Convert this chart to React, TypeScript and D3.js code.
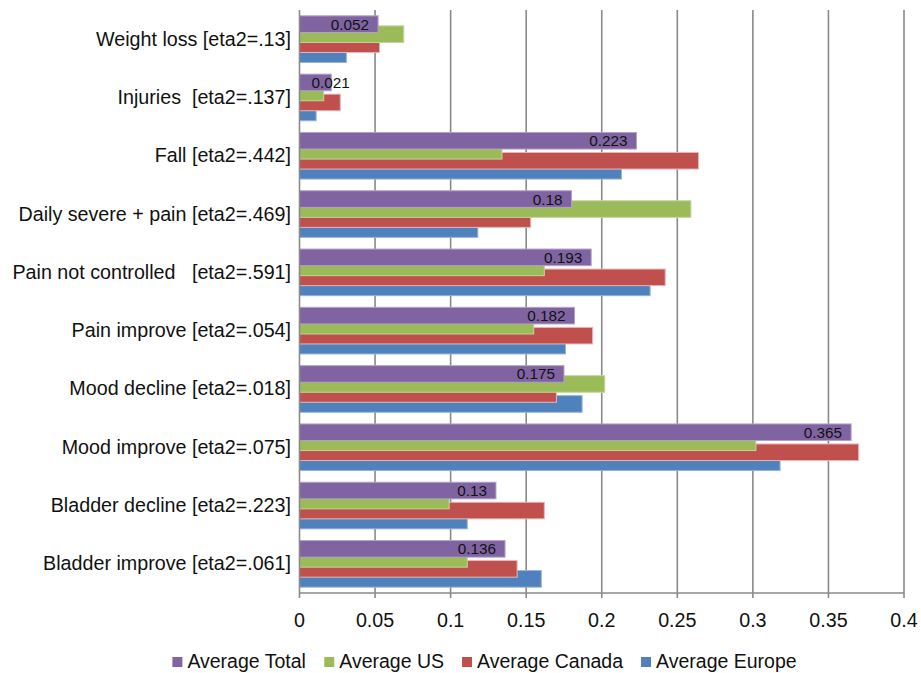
import React from "react";
import * as d3 from "d3";

const categories = [
  "Weight loss [eta2=.13]",
  "Injuries  [eta2=.137]",
  "Fall [eta2=.442]",
  "Daily severe + pain [eta2=.469]",
  "Pain not controlled   [eta2=.591]",
  "Pain improve [eta2=.054]",
  "Mood decline [eta2=.018]",
  "Mood improve [eta2=.075]",
  "Bladder decline [eta2=.223]",
  "Bladder improve [eta2=.061]",
];
const seriesNames = ["Average Total", "Average US", "Average Canada", "Average Europe"];
const averageTotal = [0.052, 0.021, 0.223, 0.18, 0.193, 0.182, 0.175, 0.365, 0.13, 0.136];
const averageUS = [0.069, 0.016, 0.134, 0.259, 0.162, 0.155, 0.202, 0.302, 0.099, 0.111];
const averageCanada = [0.053, 0.027, 0.264, 0.153, 0.242, 0.194, 0.17, 0.37, 0.162, 0.144];
const averageEurope = [0.031, 0.011, 0.213, 0.118, 0.232, 0.176, 0.187, 0.318, 0.111, 0.16];
const totalLabels = ["0.052", "0.021", "0.223", "0.18", "0.193", "0.182", "0.175", "0.365", "0.13", "0.136"];
const xTicks = [0, 0.05, 0.1, 0.15, 0.2, 0.25, 0.3, 0.35, 0.4];
const xTickLabels = ["0", "0.05", "0.1", "0.15", "0.2", "0.25", "0.3", "0.35", "0.4"];

const seriesValues = [averageTotal, averageUS, averageCanada, averageEurope];
const colors = ["#8064A2", "#9BBB59", "#C0504D", "#4F81BD"];
const strokes = ["#B3A2C7", "#C3D69B", "#E6B9B8", "#95B3D7"];

const W = 921;
const H = 673;
const FONT = "'Liberation Sans', Arial, Helvetica, sans-serif";

let ctx: CanvasRenderingContext2D | null = null;
function measure(text: string, size: number): number {
  if (!ctx) {
    const c = document.createElement("canvas");
    ctx = c.getContext("2d");
  }
  if (!ctx) return text.length * size * 0.55;
  ctx.font = `${size}px ${FONT}`;
  return ctx.measureText(text).width;
}

export default function App() {
  const left = 299.5;
  const right = 904;
  const top = 10;
  const bottom = 593;

  const x = d3.scaleLinear().domain([0, 0.4]).range([left, right]);
  const y = d3.scaleBand<string>().domain(categories).range([top, bottom]).padding(0);
  const bw = y.bandwidth();
  const step = bw * 0.1715;
  const bh = bw * 0.285;
  const off = (bw - 3 * step - bh) / 2;

  const labelSize = 19.7;
  const dataSize = 15.3;

  // legend layout
  const legendSize = 19.5;
  const sq = 10;
  const gap = 18;
  const itemWidths = seriesNames.map((n) => 15 + measure(n, legendSize));
  const totalLegend = d3.sum(itemWidths) + gap * (seriesNames.length - 1);
  let lx = W / 2 + 24 - totalLegend / 2;
  const legendX: number[] = [];
  itemWidths.forEach((w) => {
    legendX.push(lx);
    lx += w + gap;
  });

  const drawOrder = [3, 2, 1, 0];

  return (
    <svg
      width={W}
      height={H}
      style={{ position: "absolute", left: 0, top: 0, background: "#fff" }}
      fontFamily={FONT}
    >
      <rect x={0} y={0} width={W} height={H} fill="#fff" />
      {/* gridlines */}
      {xTicks.slice(1).map((t) => (
        <line key={t} x1={x(t)} x2={x(t)} y1={top} y2={bottom + 5} stroke="#8a8a8a" strokeWidth={1.6} />
      ))}
      {/* bars */}
      {categories.map((c, ci) => (
        <g key={c}>
          {drawOrder.map((si) => {
            const v = seriesValues[si][ci];
            const yy = (y(c) ?? 0) + off + si * step;
            return (
              <rect
                key={si}
                x={x(0)}
                y={yy}
                width={x(v) - x(0)}
                height={bh}
                fill={colors[si]}
                stroke={strokes[si]}
                strokeWidth={1}
              />
            );
          })}
        </g>
      ))}
      {/* data labels */}
      {categories.map((c, ci) => {
        const v = averageTotal[ci];
        const tw = measure(totalLabels[ci], dataSize);
        const rightEdge = Math.max(x(v) - 9, x(0) + 12 + tw);
        const yy = (y(c) ?? 0) + off + bh / 2 + 5.5;
        return (
          <text key={c} x={rightEdge} y={yy} fontSize={dataSize} textAnchor="end" fill="#111">
            {totalLabels[ci]}
          </text>
        );
      })}
      {/* axes */}
      <line x1={left} x2={left} y1={top} y2={bottom} stroke="#8a8a8a" strokeWidth={1.6} />
      <line x1={left} x2={right} y1={bottom} y2={bottom} stroke="#8a8a8a" strokeWidth={1.6} />
      <line x1={left} x2={left} y1={bottom} y2={bottom + 5} stroke="#8a8a8a" strokeWidth={1.6} />
      {/* category labels */}
      {categories.map((c) => (
        <text
          key={c}
          x={291}
          y={(y(c) ?? 0) + bw / 2 + 6.5}
          fontSize={labelSize}
          textAnchor="end"
          fill="#111"
          style={{ whiteSpace: "pre" }}
        >
          {c}
        </text>
      ))}
      {/* x tick labels */}
      {xTicks.map((t, i) => (
        <text key={t} x={x(t)} y={627} fontSize={labelSize} textAnchor="middle" fill="#111">
          {xTickLabels[i]}
        </text>
      ))}
      {/* legend */}
      {seriesNames.map((n, i) => (
        <g key={n}>
          <rect x={legendX[i]} y={657} width={sq} height={sq} fill={colors[i]} />
          <text x={legendX[i] + 15} y={668} fontSize={legendSize} fill="#111">
            {n}
          </text>
        </g>
      ))}
    </svg>
  );
}
